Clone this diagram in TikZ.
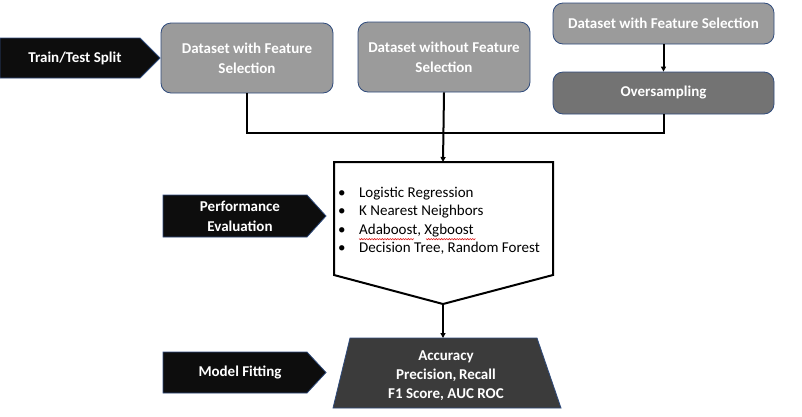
\documentclass[tikz,border=0pt]{standalone}
\usepackage{fontspec}
\setmainfont{Carlito}
\usetikzlibrary{arrows.meta,calc}
\definecolor{edgeblue}{HTML}{2F4B7C}
\definecolor{boxgray}{HTML}{9B9B9B}
\definecolor{overgray}{HTML}{737373}
\definecolor{trapgray}{HTML}{3B3B3B}
\definecolor{tagblack}{HTML}{0D0D0D}
\definecolor{squigred}{HTML}{E02020}
\tikzset{
  x=1pt,y=-1pt,
  dbox/.style={draw=edgeblue,line width=0.8pt,rounded corners=10pt,fill=boxgray,
    text=white,font=\fontsize{15}{20}\selectfont\bfseries,align=center,inner sep=0pt},
  tag/.style={draw=edgeblue,line width=0.8pt,fill=tagblack},
  tagtext/.style={text=white,font=\fontsize{15}{20}\selectfont\bfseries,align=center},
  conn/.style={line width=2pt,black},
  arr/.style={conn,-{Triangle[length=5pt,width=5pt]}},
  squig/.style={squigred,line width=0.6pt},
}
\begin{document}
\begin{tikzpicture}
\useasboundingbox (0,0) rectangle (802,416);
% tags
\draw[tag] (0,38) -- (140,38) -- (160,58) -- (140,78) -- (0,78) -- cycle;
\node[tagtext] (tts) at (75,58) {Train/Test Split};
\draw[tag] (163,195) -- (307,195) -- (326,216) -- (307,237) -- (163,237) -- cycle;
\node[tagtext] (pe) at (240,216) {Performance\\Evaluation};
\draw[tag] (163,352) -- (307,352) -- (326,372.5) -- (307,393) -- (163,393) -- cycle;
\node[tagtext] (mf) at (240,372.5) {Model Fitting};
% datasets
\node[dbox,minimum width=172pt,minimum height=70pt] (b1) at (247,58) {Dataset with Feature\\Selection};
\node[dbox,minimum width=172pt,minimum height=70pt] (b2) at (444,57) {Dataset without Feature\\Selection};
\node[dbox,minimum width=221pt,minimum height=41pt] (b3) at (663.5,23.5) {Dataset with Feature Selection};
\node[dbox,fill=overgray,minimum width=221pt,minimum height=42pt] (ov) at (663.5,93) {Oversampling};
% evaluation pentagon
\draw[line width=2pt,fill=white] (334,162) -- (553,162) -- (553,275) -- (443,304) -- (334,275) -- cycle;
\coordinate (evtop) at (443,162);
\coordinate (evtip) at (443,304);
\node[anchor=north west,font=\fontsize{15}{18.5}\selectfont,align=left,inner sep=0pt] (list) at (338,186.5) {%
\makebox[21pt][l]{\textbullet}Logistic Regression\\
\makebox[21pt][l]{\textbullet}K Nearest Neighbors\\
\makebox[21pt][l]{\textbullet}Adaboost, Xgboost\\
\makebox[21pt][l]{\textbullet}Decision Tree, Random Forest};
% red squiggles under Adaboost, Xgboost
\draw[squig] (359,238.5) \foreach \i in {0,...,20}{ -- ++(1.3,1.3) -- ++(1.3,-1.3)};
\draw[squig] (426,238.5) \foreach \i in {0,...,18}{ -- ++(1.3,1.3) -- ++(1.3,-1.3)};
% trapezoid
\draw[draw=edgeblue,line width=0.8pt,fill=trapgray] (350,338) -- (537,338) -- (561,408) -- (333,408) -- cycle;
\coordinate (trtop) at (443,338);
\node[text=white,font=\fontsize{15}{19}\selectfont\bfseries,align=center] (metrics) at (446,376) {Accuracy\\Precision,\,Recall\\F1 Score, AUC ROC};
% connectors
\draw[conn] (b1.south) -- (b1.south |- 0,133) -- (ov.south |- 0,133) -- (ov.south);
\draw[arr] (b2.south) -- (evtop);
\draw[arr] (b3.south) -- (ov.north);
\draw[arr] (evtip) -- (trtop);
\end{tikzpicture}
\end{document}
